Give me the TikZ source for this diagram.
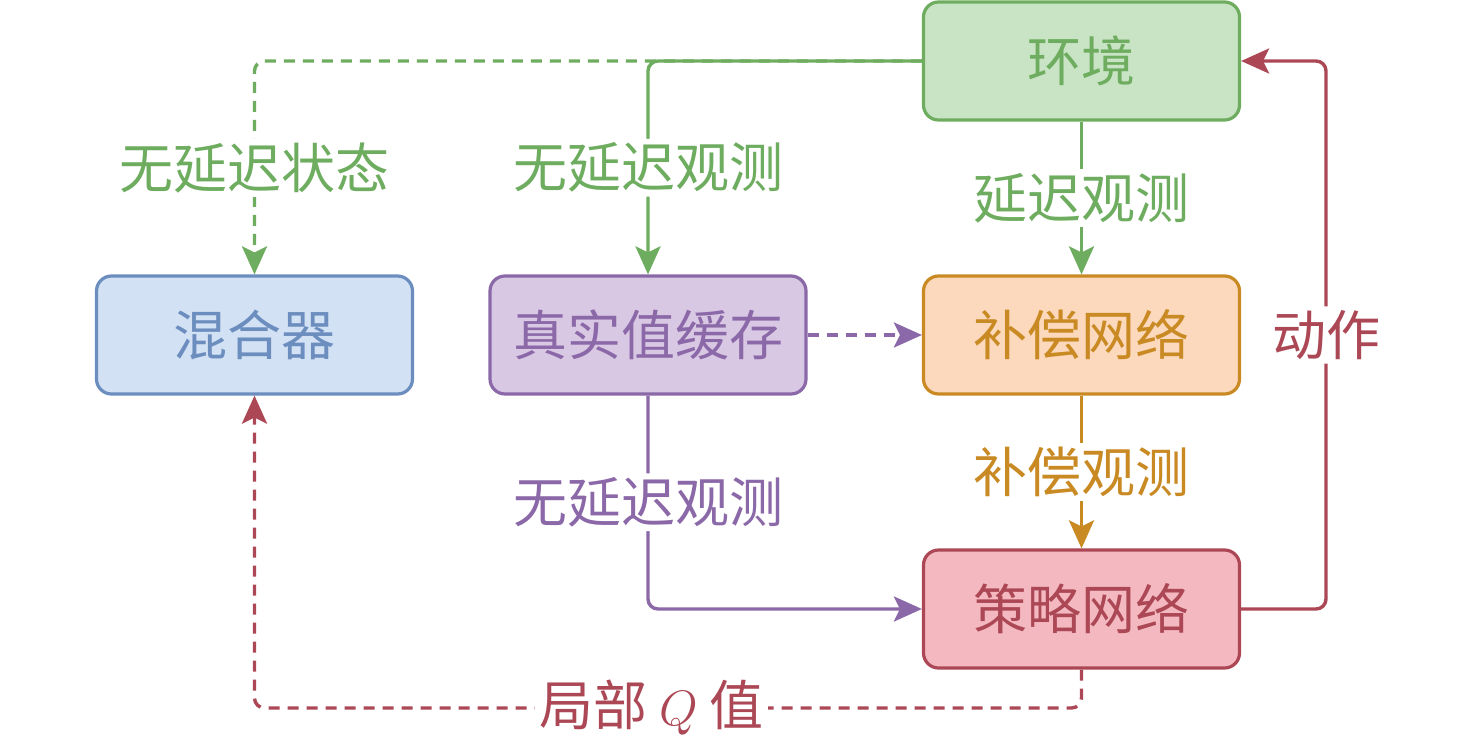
\documentclass[tikz,border=0pt]{standalone}
\usepackage{fontspec}
\setmainfont{Noto Sans CJK SC}
\usetikzlibrary{arrows.meta}
\definecolor{G}{RGB}{110,173,95}
\definecolor{Gf}{RGB}{201,228,197}
\definecolor{B}{RGB}{108,142,191}
\definecolor{Bf}{RGB}{211,225,244}
\definecolor{P}{RGB}{139,104,168}
\definecolor{Pf}{RGB}{217,200,227}
\definecolor{O}{RGB}{201,138,35}
\definecolor{Of}{RGB}{252,217,188}
\definecolor{R}{RGB}{172,72,85}
\definecolor{Rf}{RGB}{244,185,192}
\tikzset{
  box/.style={draw, line width=1.6pt, rounded corners=7.5pt, minimum width=158pt, minimum height=59pt, inner sep=0pt, font=\fontsize{27}{30}\selectfont},
  edge/.style={line width=1.7pt, rounded corners=5pt, -{Stealth[length=14pt,width=12.5pt,inset=3pt]}},
  dsh/.style={dash pattern=on 5.5pt off 4pt},
  lbl/.style={fill=white, inner sep=2pt, font=\fontsize{27}{30}\selectfont}
}
\begin{document}
\begin{tikzpicture}[x=0.5pt,y=-0.5pt]
\useasboundingbox (0,0) rectangle (1476,744);
\node[box, draw=G, fill=Gf, text=G] (env) at (1081.5,61) {环境};
\node[box, draw=B, fill=Bf, text=B] (mix) at (254.5,335) {混合器};
\node[box, draw=P, fill=Pf, text=P] (cache) at (648,335) {真实值缓存};
\node[box, draw=O, fill=Of, text=O] (comp) at (1081.5,335) {补偿网络};
\node[box, draw=R, fill=Rf, text=R] (pol) at (1081.5,609) {策略网络};

\coordinate (pe) at (1326,609);
\coordinate (ps) at (1081.5,708);
\coordinate (pm) at (254.5,708);

\draw[edge, dsh, G] (env.west) -| node[lbl, pos=0.75, text=G] {无延迟状态} (mix.north);
\draw[edge, G] (env.west) -| node[lbl, pos=0.75, text=G] {无延迟观测} (cache.north);
\draw[edge, G] (env.south) -- node[lbl, text=G] {延迟观测} (comp.north);
\draw[edge, dsh, P] (cache.east) -- (comp.west);
\draw[edge, P] (cache.south) |- node[lbl, pos=0.25, text=P] {无延迟观测} (pol.west);
\draw[edge, O] (comp.south) -- node[lbl, text=O] {补偿观测} (pol.north);
\draw[edge, R] (pol.east) -- (pe) |- node[lbl, pos=0.25, text=R] {动作} (env.east);
\draw[edge, dsh, R] (pol.south) -- (ps) -- node[lbl, pos=0.52, text=R] {局部 $Q$ 值} (pm) -- (mix.south);
\end{tikzpicture}
\end{document}
